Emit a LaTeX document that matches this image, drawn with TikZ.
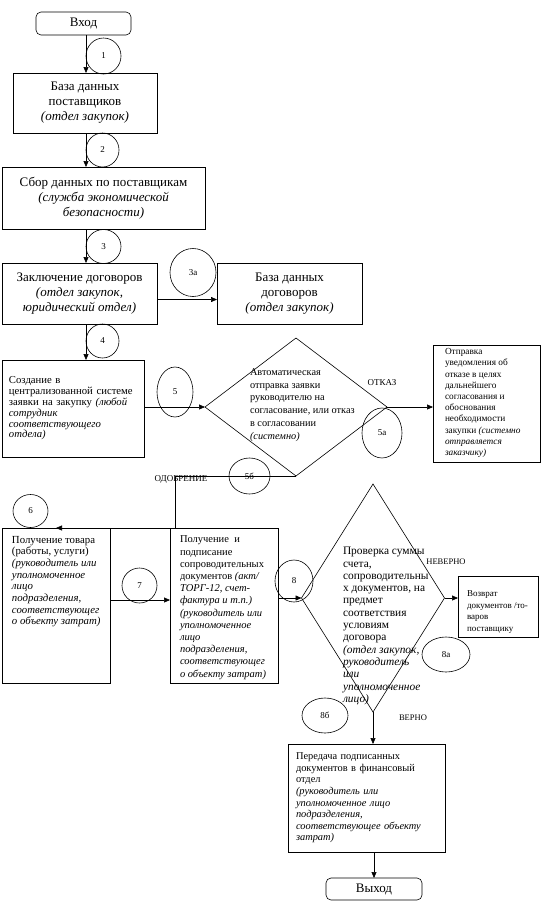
\documentclass[tikz,border=0pt]{standalone}
\usepackage{fontspec}
\setmainfont{Liberation Serif}
\usetikzlibrary{arrows.meta,shapes.geometric}
\begin{document}
\begin{tikzpicture}[x=1pt,y=-1pt,line width=0.6pt,
  box/.style={draw,rectangle,inner sep=0pt,outer sep=0pt},
  rbox/.style={box,rounded corners=5pt},
  big/.style={font=\fontsize{13}{15}\selectfont},
  txt/.style={inner sep=0pt,outer sep=0pt,align=left},
  num/.style={draw,ellipse,inner sep=0pt,outer sep=0pt,font=\fontsize{9}{10}\selectfont},
  arr/.style={-{Triangle[length=6pt,width=5pt]}},
  lbl/.style={inner sep=0pt,font=\fontsize{9}{10}\selectfont},
  dia/.style={draw,diamond,inner sep=0pt,outer sep=0pt}]
\useasboundingbox[fill=white] (0,0) rectangle (542,913);
\coordinate (colA) at (86,0);
\coordinate (j) at (175,0);
% boxes
\node[rbox,big,minimum width=95pt,minimum height=23pt] (in) at (83.5,23.5) {Вход};
\node[box,big,align=center,minimum width=144pt,minimum height=60pt] (b1) at (85,103)
  {База данных\\поставщиков\\\textit{(отдел закупок)}};
\node[box,big,align=center,minimum width=203pt,minimum height=62pt] (b2) at (103.5,198)
  {Сбор данных по поставщикам\\\textit{(служба экономической}\\\textit{безопасности)}};
\node[box,big,align=center,minimum width=155pt,minimum height=61pt] (b3) at (79.5,293.5)
  {Заключение договоров\\\textit{(отдел закупок,}\\\textit{юридический отдел)}};
\node[box,big,align=center,minimum width=145pt,minimum height=61pt] (b3a) at (289.5,293.5)
  {База данных\\договоров\\\textit{(отдел закупок)}};
\node[box,align=left,text width=128pt,minimum width=142pt,minimum height=97pt,
  font=\fontsize{10.7}{10.8}\selectfont] (b4) at (73,408.5)
  {Создание в\\централизованной системе\\заявки на закупку \textit{(любой}\\\textit{сотрудник}\\\textit{соответствующего}\\\textit{отдела)}};
\node[dia,minimum width=182pt,minimum height=138pt] (d1) at (296,407) {};
\node[txt,anchor=west,font=\fontsize{10.3}{12.7}\selectfont] (d1t) at (250,405)
  {Автоматическая\\отправка заявки\\руководителю на\\согласование, или отказ\\в согласовании\\\textit{(системно)}};
\node[box,minimum width=107pt,minimum height=117pt] (otk) at (486.5,403.5) {};
\node[txt,anchor=west,font=\fontsize{9.3}{11.2}\selectfont] (otkt) at (445,403)
  {Отправка\\уведомления об\\отказе в целях\\дальнейшего\\согласования и\\обоснования\\необходимости\\закупки \textit{(системно}\\\textit{отправляется}\\\textit{заказчику)}};
\node[box,minimum width=108pt,minimum height=155pt] (b6) at (56,605.5) {};
\node[txt,anchor=north west,font=\fontsize{10.8}{11.7}\selectfont,xshift=10pt,yshift=-8pt] (b6t) at (b6.north west)
  {Получение товара\\(работы, услуги)\\\textit{(руководитель или}\\\textit{уполномоченное}\\\textit{лицо}\\\textit{подразделения,}\\\textit{соответствующег}\\\textit{о объекту затрат)}};
\node[box,minimum width=108pt,minimum height=155pt] (b7) at (224,605.5) {};
\node[txt,anchor=north west,font=\fontsize{10.5}{12.2}\selectfont,xshift=10pt,yshift=-8pt] (b7t) at (b7.north west)
  {Получение\ \ и\\подписание\\сопроводительных\\документов \textit{(акт/}\\\textit{ТОРГ-12, счет-}\\\textit{фактура и т.п.)}\\\textit{(руководитель или}\\\textit{уполномоченное}\\\textit{лицо}\\\textit{подразделения,}\\\textit{соответствующег}\\\textit{о объекту затрат)}};
\node[dia,minimum width=143pt,minimum height=228pt] (d2) at (373,598) {};
\node[txt,anchor=west,font=\fontsize{11.4}{12.3}\selectfont] (d2t) at (343,626)
  {Проверка суммы\\счета,\\сопроводительны\\х документов, на\\предмет\\соответствия\\условиям\\договора\\\textit{(отдел закупок,}\\\textit{руководитель}\\\textit{или}\\\textit{уполномоченное}\\\textit{лицо)}};
\node[box,minimum width=80pt,minimum height=61pt] (ret) at (498,606.5) {};
\node[txt,anchor=west,font=\fontsize{9}{11.7}\selectfont] (rett) at (467,612)
  {Возврат\\документов /то-\\варов\\поставщику};
\node[box,align=left,text width=141pt,minimum width=157pt,minimum height=108pt,
  font=\fontsize{10.4}{11.6}\selectfont] (b9) at (366.5,798)
  {Передача подписанных\\документов в финансовый\\отдел\\\textit{(руководитель или}\\\textit{уполномоченное лицо}\\\textit{подразделения,}\\\textit{соответствующее объекту}\\\textit{затрат)}};
\node[rbox,big,minimum width=96pt,minimum height=22pt] (out) at (374,889) {Выход};
% numbered circles
\node[num,minimum width=35pt,minimum height=36pt] (c1) at (103.5,56) {1};
\node[num,minimum width=33pt,minimum height=34pt] (c2) at (102.5,150) {2};
\node[num,minimum width=35pt,minimum height=34pt] (c3) at (103.5,246.5) {3};
\node[num,minimum width=46pt,minimum height=48pt] (c3a) at (193,272.5) {3а};
\node[num,minimum width=33pt,minimum height=34pt] (c4) at (102.5,341) {4};
\node[num,minimum width=36pt,minimum height=50pt] (c5) at (175,392) {5};
\node[num,minimum width=40pt,minimum height=50pt] (c5a) at (382,433) {5а};
\node[num,minimum width=41pt,minimum height=36pt] (c5b) at (249.5,476) {5б};
\node[num,minimum width=35pt,minimum height=33pt] (c6) at (30.5,511) {6};
\node[num,minimum width=35pt,minimum height=35pt] (c7) at (139.5,585.5) {7};
\node[num,minimum width=38pt,minimum height=42pt] (c8) at (294,581) {8};
\node[num,minimum width=48pt,minimum height=35pt] (c8a) at (446,654.5) {8а};
\node[num,minimum width=46pt,minimum height=35pt] (c8b) at (325,715.5) {8б};
% labels
\node[lbl] (lotk) at (382,383) {ОТКАЗ};
\node[lbl] (lodo) at (181,479) {ОДОБРЕНИЕ};
\node[lbl,font=\fontsize{8.5}{10}\selectfont] (lnev) at (446,562) {НЕВЕРНО};
\node[lbl,font=\fontsize{8.5}{10}\selectfont] (lver) at (413,718) {ВЕРНО};
% connectors
\draw[arr] (in.south -| colA) -- (b1.north -| colA);
\draw[arr] (b1.south -| colA) -- (b2.north -| colA);
\draw[arr] (b2.south -| colA) -- (b3.north -| colA);
\draw[arr] (b3.south -| colA) -- (b4.north -| colA);
\draw[arr] ([yshift=-6pt]b3.east) -- ([yshift=-6pt]b3a.west);
\draw[arr] (b4.east |- d1.west) -- (d1.west);
\draw[arr] (d1.east) -- (d1.east -| otk.west);
\draw[arr] (d1.south) -| (j |- b7.north) -- (b6.north);
\draw[arr] ([yshift=5.5pt]b6.east) -- ([yshift=5.5pt]b7.west);
\draw[arr] (b7.east |- d2.west) -- (d2.west);
\draw[arr] (d2.east) -- (d2.east -| ret.west);
\draw[arr] (d2.south) -- (d2.south |- b9.north);
\draw[arr] (b9.south -| out) -- (out.north);
\end{tikzpicture}
\end{document}
